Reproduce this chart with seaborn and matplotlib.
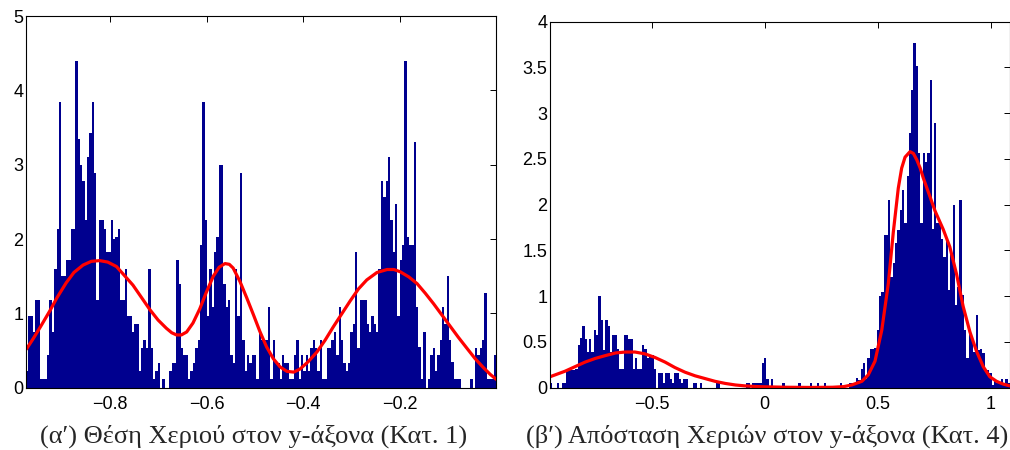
import numpy as np
import pandas as pd
import matplotlib
matplotlib.use("Agg")
import matplotlib.pyplot as plt
from matplotlib.ticker import FuncFormatter
import seaborn as sns

OUT_FIG = "out.png"

# =========================
# Panel (a): hand position on y axis (class 1)
# =========================
A_XLIM = (-0.973, -0.002)
A_HEIGHTS = [
    0.22, 0.97, 0.97, 0.75, 1.18, 1.18, 0.12, 0.12, 0.12, 0.44,
    1.18, 0.75, 1.60, 2.14, 3.85, 1.50, 1.50, 1.72, 1.72, 2.14,
    2.14, 4.39, 3.34, 3.00, 2.78, 2.25, 3.10, 3.43, 3.85, 2.89,
    1.18, 2.25, 2.25, 2.14, 1.83, 1.83, 2.25, 2.00, 2.03, 2.14,
    1.18, 1.18, 1.60, 0.97, 0.97, 0.75, 0.86, 0.86, 0.22, 0.54,
    0.64, 0.54, 1.60, 0.54, 0.12, 0.22, 0.33, 0.00, 0.12, 0.00,
    0.00, 0.22, 0.33, 0.33, 1.72, 1.39, 0.54, 0.44, 0.44, 0.12,
    0.22, 0.33, 0.54, 0.64, 1.92, 3.85, 2.25, 0.97, 1.60, 1.09,
    1.82, 2.03, 3.00, 3.00, 1.39, 1.09, 1.18, 0.44, 0.33, 1.60,
    0.97, 2.89, 0.64, 0.22, 0.44, 0.33, 0.44, 0.44, 0.12, 0.75,
    0.64, 0.64, 0.64, 1.08, 0.12, 0.64, 0.33, 0.33, 0.12, 0.44,
    0.33, 0.33, 0.12, 0.12, 0.44, 0.64, 0.12, 0.44, 0.22, 0.44,
    0.22, 0.54, 0.64, 0.54, 0.22, 0.64, 0.12, 0.12, 0.54, 0.54,
    0.64, 0.75, 0.44, 1.08, 0.64, 0.33, 0.22, 0.33, 0.75, 0.86,
    1.82, 0.54, 1.18, 1.18, 1.18, 0.86, 0.75, 0.97, 0.86, 0.75,
    1.60, 2.78, 2.57, 2.78, 3.10, 2.25, 1.83, 2.47, 0.97, 1.72,
    1.92, 4.39, 2.03, 1.92, 1.92, 3.31, 1.08, 0.55, 0.12, 0.75,
    0.00, 0.12, 0.44, 0.54, 0.22, 0.44, 0.64, 1.08, 0.86, 1.50,
    0.64, 0.34, 0.12, 0.12, 0.12, 0.00, 0.00, 0.00, 0.00, 0.12,
    0.00, 0.54, 0.44, 0.54, 0.64, 1.28, 0.12, 0.12, 0.12, 0.44,
]
A_CURVE_X = [-0.972, -0.958, -0.943, -0.924, -0.909, -0.890, -0.874, -0.855,
             -0.838, -0.821, -0.804, -0.786, -0.771, -0.752, -0.735, -0.717,
             -0.700, -0.683, -0.672, -0.662, -0.652, -0.641, -0.628, -0.614,
             -0.600, -0.586, -0.574, -0.562, -0.553, -0.545, -0.531, -0.517,
             -0.503, -0.490, -0.476, -0.462, -0.448, -0.434, -0.420, -0.407,
             -0.390, -0.372, -0.355, -0.338, -0.320, -0.303, -0.286, -0.269,
             -0.248, -0.227, -0.213, -0.200, -0.182, -0.165, -0.148, -0.131,
             -0.114, -0.097, -0.080, -0.062, -0.045, -0.028, -0.014, -0.001]
A_CURVE_Y = [0.52, 0.66, 0.82, 1.03, 1.21, 1.41, 1.55, 1.65,
             1.70, 1.71, 1.69, 1.63, 1.52, 1.38, 1.22, 1.05,
             0.91, 0.80, 0.74, 0.71, 0.71, 0.75, 0.87, 1.06,
             1.29, 1.50, 1.62, 1.67, 1.66, 1.61, 1.43, 1.21,
             0.98, 0.76, 0.55, 0.39, 0.28, 0.22, 0.21, 0.25,
             0.35, 0.48, 0.64, 0.82, 1.00, 1.17, 1.33, 1.45,
             1.55, 1.59, 1.59, 1.56, 1.49, 1.40, 1.27, 1.13,
             0.98, 0.83, 0.68, 0.53, 0.39, 0.27, 0.18, 0.11]
A_XTICKS = [-0.8, -0.6, -0.4, -0.2]
A_YTICKS = [0, 1, 2, 3, 4, 5]
A_YLIM = (0, 5)
A_CAPTION = "(α′) Θέση Χεριού στον y-άξονα (Κατ. 1)"

# =========================
# Panel (b): distance of hands on y axis (class 4)
# =========================
B_XLIM = (-0.95, 1.0854)
B_HEIGHTS = [
    0.05, 0.00, 0.00, 0.05, 0.00, 0.05, 0.05, 0.21, 0.21, 0.19,
    0.19, 0.21, 0.47, 0.54, 0.68, 0.53, 0.39, 0.53, 0.39, 0.63,
    0.58, 1.00, 0.74, 0.41, 0.74, 0.68, 0.39, 0.58, 0.58, 0.42,
    0.21, 0.21, 0.58, 0.58, 0.53, 0.53, 0.21, 0.32, 0.21, 0.21,
    0.47, 0.42, 0.32, 0.36, 0.36, 0.21, 0.00, 0.16, 0.16, 0.05,
    0.16, 0.16, 0.10, 0.05, 0.16, 0.16, 0.10, 0.05, 0.10, 0.10,
    0.00, 0.00, 0.05, 0.05, 0.00, 0.05, 0.00, 0.00, 0.00, 0.00,
    0.00, 0.00, 0.05, 0.05, 0.00, 0.00, 0.00, 0.00, 0.00, 0.00,
    0.00, 0.00, 0.00, 0.00, 0.00, 0.05, 0.05, 0.00, 0.05, 0.05,
    0.05, 0.05, 0.27, 0.32, 0.10, 0.00, 0.10, 0.00, 0.00, 0.00,
    0.00, 0.05, 0.00, 0.00, 0.00, 0.00, 0.00, 0.00, 0.05, 0.00,
    0.00, 0.00, 0.00, 0.05, 0.00, 0.00, 0.05, 0.00, 0.00, 0.05,
    0.00, 0.00, 0.00, 0.00, 0.00, 0.00, 0.05, 0.00, 0.00, 0.00,
    0.05, 0.05, 0.05, 0.11, 0.08, 0.21, 0.27, 0.10, 0.32, 0.42,
    0.42, 0.43, 0.63, 1.00, 1.05, 1.67, 1.67, 2.05, 1.21, 1.36,
    1.58, 1.72, 1.94, 2.16, 1.80, 2.31, 2.78, 3.25, 3.77, 3.52,
    2.57, 1.80, 2.57, 2.47, 2.57, 3.36, 1.74, 2.89, 1.80, 1.80,
    1.63, 1.43, 1.63, 1.07, 1.47, 2.00, 0.90, 1.10, 2.05, 1.01,
    0.63, 0.32, 0.63, 0.52, 0.39, 0.79, 0.41, 0.42, 0.38, 0.19,
    0.19, 0.16, 0.03, 0.08, 0.05, 0.05, 0.10, 0.05, 0.09, 0.05,
]
B_CURVE_X = [-0.950, -0.884, -0.795, -0.750, -0.707, -0.660, -0.618, -0.574,
             -0.530, -0.485, -0.441, -0.397, -0.353, -0.308, -0.264, -0.220,
             -0.175, -0.130, -0.087, -0.040, 0.000, 0.100, 0.200, 0.300,
             0.350, 0.385, 0.430, 0.458, 0.488, 0.518, 0.547, 0.569,
             0.591, 0.606, 0.621, 0.643, 0.658, 0.673, 0.688, 0.702,
             0.731, 0.754, 0.790, 0.819, 0.849, 0.878, 0.908, 0.937,
             0.967, 0.996, 1.026, 1.055, 1.085]
B_CURVE_Y = [0.12, 0.18, 0.28, 0.32, 0.35, 0.38, 0.39, 0.39,
             0.37, 0.33, 0.28, 0.22, 0.17, 0.13, 0.10, 0.07,
             0.047, 0.03, 0.02, 0.013, 0.01, 0.005, 0.003, 0.005,
             0.012, 0.03, 0.07, 0.14, 0.29, 0.63, 1.14, 1.70,
             2.18, 2.40, 2.52, 2.58, 2.56, 2.49, 2.40, 2.29,
             2.09, 1.93, 1.73, 1.54, 1.24, 0.89, 0.61, 0.40,
             0.23, 0.12, 0.07, 0.04, 0.02]
B_XTICKS = [-0.5, 0, 0.5, 1]
B_YTICKS = [0, 0.5, 1, 1.5, 2, 2.5, 3, 3.5, 4]
B_YLIM = (0, 4)
B_CAPTION = "(β′) Απόσταση Χεριών στον y-άξονα (Κατ. 4)"

BAR_COLOR = "#00008F"
CURVE_COLOR = "#FF0000"
SERIF = ["Liberation Serif", "DejaVu Serif"]


def set_style():
    sns.set_style("white")
    plt.rcParams.update({
        "font.family": ["Liberation Sans", "DejaVu Sans"],
        "axes.linewidth": 0.8,
        "axes.edgecolor": "black",
    })


def matlab_fmt(v, _pos):
    s = "%g" % round(v, 6)
    return s.replace("-", "\u2212")


def draw_panel(ax, xlim, heights, curve_x, curve_y, xticks, yticks, ylim):
    edges = np.linspace(xlim[0], xlim[1], len(heights) + 1)
    df = pd.DataFrame({
        "x": 0.5 * (edges[:-1] + edges[1:]),
        "h": np.asarray(heights, dtype=float),
    })
    sns.histplot(data=df, x="x", weights="h", bins=list(edges), stat="count",
                 color=BAR_COLOR, alpha=1, linewidth=0, edgecolor="none", ax=ax)
    curve = pd.DataFrame({"x": curve_x, "y": curve_y})
    sns.lineplot(data=curve, x="x", y="y", color=CURVE_COLOR, linewidth=2.3, ax=ax)

    ax.set_xlim(*xlim)
    ax.set_ylim(*ylim)
    ax.set_xticks(xticks)
    ax.set_yticks(yticks)
    ax.xaxis.set_major_formatter(FuncFormatter(matlab_fmt))
    ax.yaxis.set_major_formatter(FuncFormatter(matlab_fmt))
    ax.set_xlabel("")
    ax.set_ylabel("")
    ax.tick_params(direction="in", top=True, right=True, length=4, width=0.7,
                   labelsize=13, colors="black")
    ax.tick_params(axis="x", pad=6)
    ax.tick_params(axis="y", pad=2)
    for sp in ax.spines.values():
        sp.set_visible(True)
        sp.set_color("black")
        sp.set_linewidth(0.8)


def main():
    set_style()
    fig = plt.figure(figsize=(10.1, 4.5), dpi=100)

    ax_a = fig.add_axes([0.0257, 0.1384, 0.4654, 0.826])
    ax_b = fig.add_axes([0.5446, 0.1384, 0.4554, 0.8133])

    draw_panel(ax_a, A_XLIM, A_HEIGHTS, A_CURVE_X, A_CURVE_Y, A_XTICKS, A_YTICKS, A_YLIM)
    draw_panel(ax_b, B_XLIM, B_HEIGHTS, B_CURVE_X, B_CURVE_Y, B_XTICKS, B_YTICKS, B_YLIM)

    fig.text(0.2515, 0.030, A_CAPTION, ha="center", va="center", fontsize=19, family=SERIF)
    fig.text(0.760, 0.030, B_CAPTION, ha="center", va="center", fontsize=19, family=SERIF)

    fig.savefig(OUT_FIG, dpi=100)
    plt.close(fig)


if __name__ == "__main__":
    main()
